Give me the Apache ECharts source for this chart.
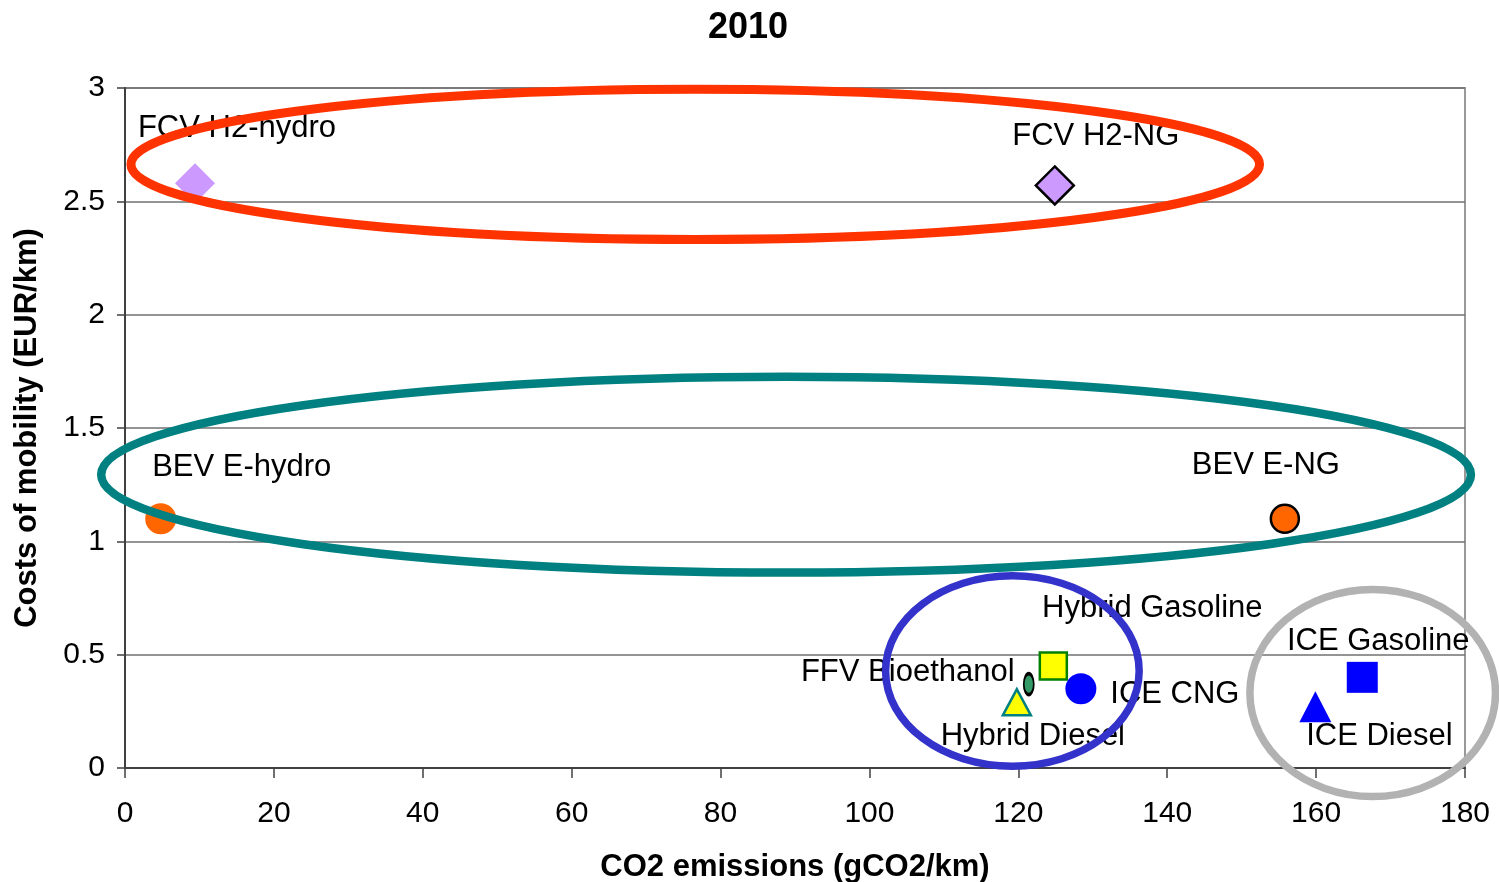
<!DOCTYPE html>
<html>
<head>
<meta charset="utf-8">
<title>2010</title>
<script src="https://cdn.jsdelivr.net/npm/echarts@6/dist/echarts.min.js"></script>
<style>
  html, body { margin: 0; padding: 0; background: #ffffff; }
  #chart { width: 1499px; height: 882px; }
</style>
</head>
<body>
<div id="chart"></div>
<script>
// Vehicle / fuel pathways
const pathways = [
  'FCV H2-hydro', 'FCV H2-NG', 'BEV E-hydro', 'BEV E-NG', 'Hybrid Gasoline',
  'ICE CNG', 'FFV Bioethanol', 'Hybrid Diesel', 'ICE Gasoline', 'ICE Diesel'
];
// CO2 emissions (gCO2/km)
const co2 = [9.4, 124.9, 4.8, 155.8, 124.7, 128.4, 121.4, 119.8, 166.2, 159.9];
// Costs of mobility (EUR/km)
const cost = [2.58, 2.57, 1.10, 1.10, 0.45, 0.35, 0.37, 0.29, 0.40, 0.27];

// Group outlines: centre x, centre y, half-width, half-height (data units)
const groupNames = ['Fuel cell', 'Battery electric', 'Hybrid / flex-fuel', 'Conventional ICE'];
const groupCx = [76.6, 88.8, 119.2, 167.6];
const groupCy = [2.663, 1.294, 0.428, 0.331];
const groupRx = [75.8, 92.0, 17.03, 16.5];
const groupRy = [0.331, 0.432, 0.420, 0.457];

// Axis ticks
const xTicks = [0, 20, 40, 60, 80, 100, 120, 140, 160, 180];
const yTicks = [0, 0.5, 1, 1.5, 2, 2.5, 3];

// Marker look and label placement per pathway
const markerStyle = {
  'FCV H2-hydro':    { symbol: 'diamond',  size: [40, 40], fill: '#CC99FF', stroke: null,      offset: [42, -55] },
  'FCV H2-NG':       { symbol: 'diamond',  size: [38, 38], fill: '#CC99FF', stroke: '#000000', offset: [41, -49] },
  'BEV E-hydro':     { symbol: 'circle',   size: [31, 31], fill: '#FF6600', stroke: null,      offset: [81, -51] },
  'BEV E-NG':        { symbol: 'circle',   size: [28, 28], fill: '#FF6600', stroke: '#000000', offset: [-19, -53] },
  'Hybrid Gasoline': { symbol: 'rect',     size: [27, 27], fill: '#FFFF00', stroke: '#008000', offset: [99, -58] },
  'ICE CNG':         { symbol: 'circle',   size: [31, 31], fill: '#0000FF', stroke: null,      offset: [94, 6] },
  'FFV Bioethanol':  { symbol: 'circle',   size: [10, 21], fill: '#339966', stroke: '#000000', offset: [-121, -12] },
  'Hybrid Diesel':   { symbol: 'triangle', size: [28, 26], fill: '#FFFF00', stroke: '#008080', offset: [16, 34] },
  'ICE Gasoline':    { symbol: 'rect',     size: [31, 31], fill: '#0000FF', stroke: null,      offset: [16, -36] },
  'ICE Diesel':      { symbol: 'triangle', size: [32, 31], fill: '#0000FF', stroke: null,      offset: [64, 30] }
};
const groupColors = ['#FF3300', '#008080', '#3333CC', '#B2B2B2'];
const groupWidths = [9, 8.5, 7.5, 7.5];

const FONT = '"Liberation Sans", Arial, sans-serif';

const pointData = pathways.map((name, i) => {
  const s = markerStyle[name];
  return {
    name: name,
    value: [co2[i], cost[i]],
    symbol: s.symbol,
    symbolSize: s.size,
    itemStyle: {
      color: s.fill,
      opacity: 1,
      borderColor: s.stroke || s.fill,
      borderWidth: s.stroke ? 2.5 : 0
    },
    label: {
      show: true,
      position: 'inside',
      offset: s.offset,
      formatter: name,
      color: '#000000',
      textBorderWidth: 0,
      fontFamily: FONT,
      fontSize: 31,
      align: 'center',
      verticalAlign: 'middle'
    }
  };
});

const groupData = groupNames.map((g, i) => ({
  name: g,
  value: [groupCx[i], groupCy[i], groupRx[i], groupRy[i]]
}));

const chart = echarts.init(document.getElementById('chart'), null, { renderer: 'canvas' });

chart.setOption({
  backgroundColor: '#ffffff',
  animation: false,
  title: {
    text: '2010',
    left: 703,
    top: 5,
    textStyle: { fontFamily: FONT, fontSize: 36, fontWeight: 'bold', color: '#000000' }
  },
  grid: {
    left: 125, right: 34, top: 88, bottom: 114,
    outerBoundsMode: 'none',
    containLabel: false,
    show: true, borderColor: '#999999', borderWidth: 2, backgroundColor: '#ffffff'
  },
  xAxis: {
    type: 'value',
    min: xTicks[0], max: xTicks[xTicks.length - 1], interval: 20,
    name: 'CO2 emissions (gCO2/km)',
    nameLocation: 'middle',
    nameGap: 84,
    nameTextStyle: { fontFamily: FONT, fontSize: 31, fontWeight: 'bold', color: '#000000' },
    axisLine: { show: true, onZero: false, lineStyle: { color: '#404040', width: 2 } },
    axisTick: { show: true, inside: false, length: 10, lineStyle: { color: '#404040', width: 1.5 } },
    axisLabel: { margin: 31, fontFamily: FONT, fontSize: 30, color: '#000000' },
    splitLine: { show: false }
  },
  yAxis: {
    type: 'value',
    min: yTicks[0], max: yTicks[yTicks.length - 1], interval: 0.5,
    name: 'Costs of mobility (EUR/km)',
    nameLocation: 'middle',
    nameGap: 82,
    nameTextStyle: { fontFamily: FONT, fontSize: 31, fontWeight: 'bold', color: '#000000' },
    axisLine: { show: true, onZero: false, lineStyle: { color: '#404040', width: 2 } },
    axisTick: { show: true, inside: false, length: 8, lineStyle: { color: '#404040', width: 1.5 } },
    axisLabel: {
      margin: 20, fontFamily: FONT, fontSize: 30, color: '#000000',
      formatter: v => String(v)
    },
    splitLine: { show: true, lineStyle: { color: '#707070', width: 1.5 } }
  },
  series: [
    {
      type: 'scatter',
      data: pointData,
      z: 3
    },
    {
      type: 'custom',
      clip: false,
      z: 10,
      silent: true,
      encode: { x: 0, y: 1 },
      data: groupData,
      renderItem: function (params, api) {
        const c = api.coord([api.value(0), api.value(1)]);
        const sz = api.size([api.value(2), api.value(3)]);
        const i = params.dataIndex;
        return {
          type: 'ellipse',
          shape: { cx: c[0], cy: c[1], rx: sz[0], ry: sz[1] },
          style: { fill: 'none', stroke: groupColors[i], lineWidth: groupWidths[i] }
        };
      }
    }
  ]
});
</script>
</body>
</html>
